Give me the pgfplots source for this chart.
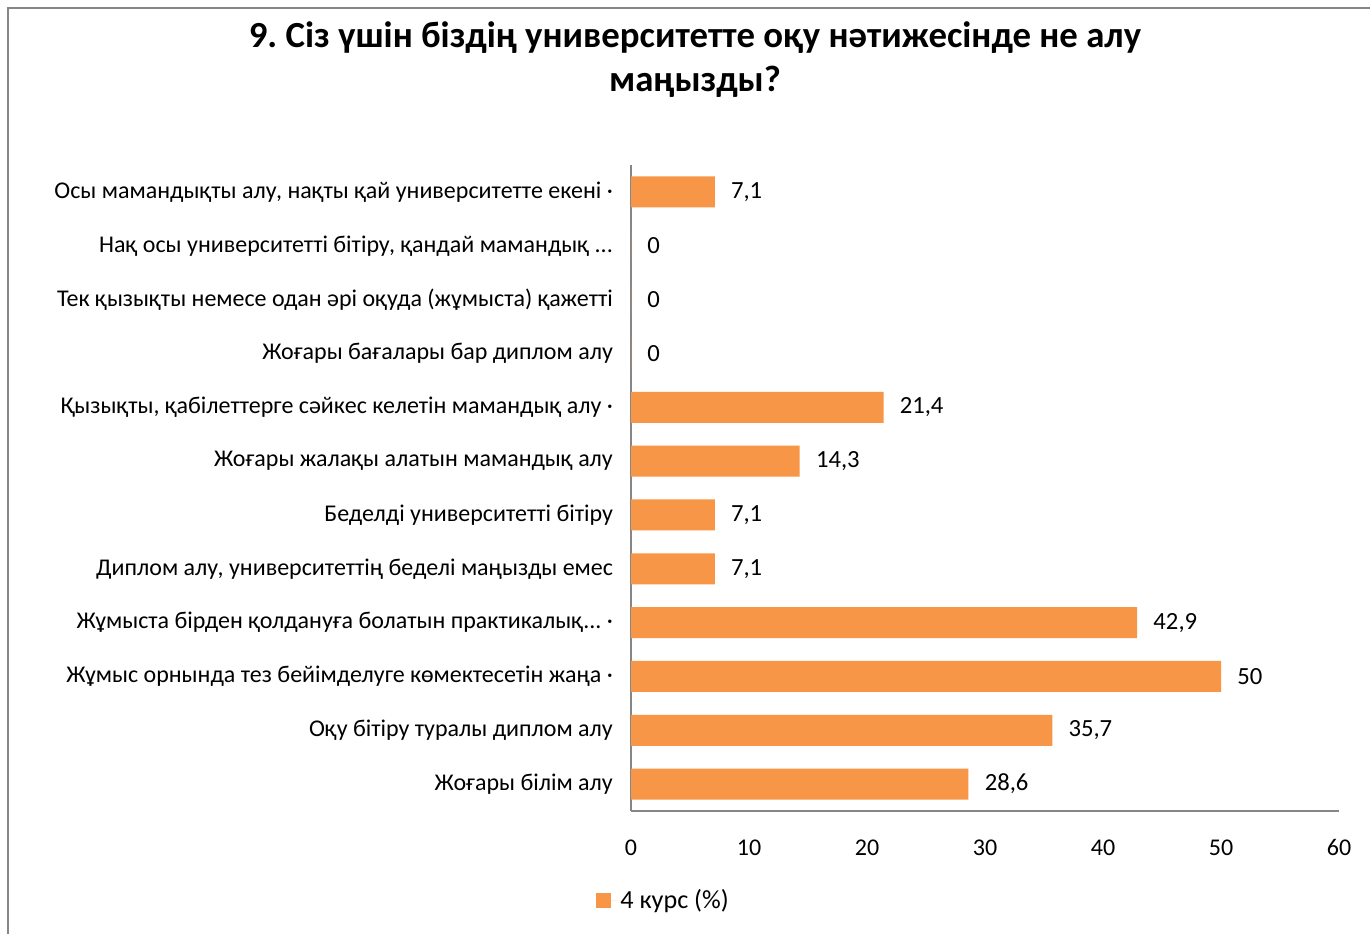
\documentclass[border=0pt]{standalone}
\usepackage{pgfplots}
\pgfplotsset{compat=1.18}
\usepackage{fontspec}
\setmainfont{Carlito}
\frenchspacing
\definecolor{barorange}{HTML}{F79646}
\definecolor{axisgray}{HTML}{868686}
\newcommand\dd{...}
\pgfplotstableread{
y v
0 28.6
1 35.7
2 50
3 42.9
4 7.1
5 7.1
6 14.3
7 21.4
8 0
9 0
10 0
11 7.1
}\mydata
\begin{document}
\begin{tikzpicture}[x=0.75pt,y=0.75pt]
\useasboundingbox (0,0) rectangle (1370,933);
\fill[white] (0,0) rectangle (1370,933);
\draw[axisgray, line width=1.2pt] (8,-20) -- (8,925) -- (1400,925);
\node[align=center, font=\bfseries\fontsize{27.6}{33}\selectfont] at (695,873) {9. Сіз үшін біздің университетте оқу нәтижесінде не алу\\маңызды?};
\begin{axis}[
  at={(473.25pt,91.5pt)}, anchor=south west,
  scale only axis, width=531pt, height=484.5pt,
  xbar, bar width=23.25pt,
  xmin=0, xmax=60, ymin=-0.5, ymax=11.5,
  xtick={0,10,...,60}, ytick={0,...,11},
  yticklabels={Жоғары білім алу, Оқу бітіру туралы диплом алу, Жұмыс орнында тез бейімделуге көмектесетін жаңа ·, Жұмыста бірден қолдануға болатын практикалық\dd{} ·, Диплом алу{,} университеттің беделі маңызды емес, Беделді университетті бітіру, Жоғары жалақы алатын мамандық алу, Қызықты{,} қабілеттерге сәйкес келетін мамандық алу ·, Жоғары бағалары бар диплом алу, Тек қызықты немесе одан әрі оқуда (жұмыста) қажетті, Нақ осы университетті бітіру{,} қандай мамандық \dd, Осы мамандықты алу{,} нақты қай университетте екені ·},
  axis x line=bottom, axis y line=left,
  axis line style={-, axisgray, line width=0.9pt},
  major tick style={draw=none}, minor tick style={draw=none},
  tick label style={font=\fontsize{18}{20}\selectfont},
  y tick label style={anchor=east, inner sep=0pt, xshift=-11.25pt},
  x tick label style={anchor=base, inner sep=0pt, yshift=-31.5pt},
  /pgf/number format/assume math mode=true,
  nodes near coords,
  nodes near coords style={font=\fontsize{18.5}{20}\selectfont, anchor=west, inner sep=0pt, xshift=12pt, /pgf/number format/.cd, use comma, fixed, 1000 sep={}, assume math mode=true},
  point meta=x,
  legend style={at={(axis description cs:0.046,-0.138)}, anchor=center, draw=none, font=\fontsize{19.6}{22}\selectfont, inner sep=0pt},
  legend image code/.code={\fill[barorange] (0pt,-5.6pt) rectangle (11.25pt,5.6pt); \path (0pt,0pt) -- (16.5pt,0pt);},
  clip=false,
]
\addplot[fill=barorange, draw=none] table[x=v, y=y] {\mydata};
\addlegendentry{4 курс (\%)}
\end{axis}
\end{tikzpicture}
\end{document}
